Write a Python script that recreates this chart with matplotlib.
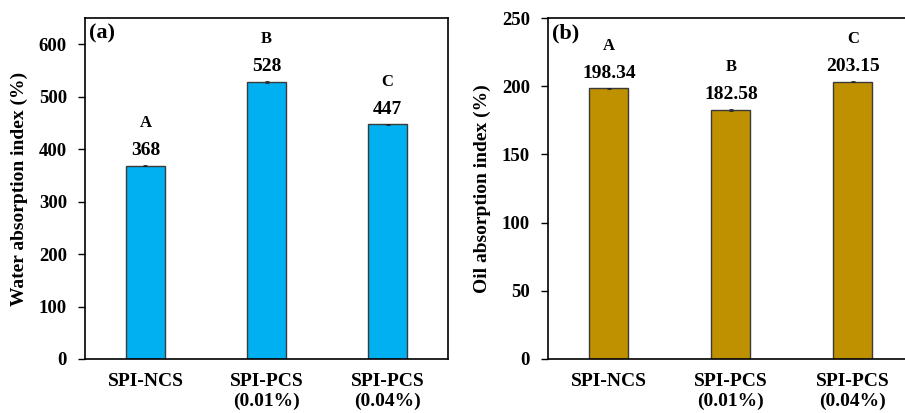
import numpy as np
import matplotlib.pyplot as plt

plt.rcParams['font.family'] = ['Liberation Serif', 'DejaVu Serif']
plt.rcParams['font.weight'] = 'bold'

samples = ['SPI-NCS', 'SPI-PCS\n(0.01%)', 'SPI-PCS\n(0.04%)']
letters = ['A', 'B', 'C']

wai = [368, 528, 447]
wai_err = [1.0, 1.0, 1.0]
oai = [198.34, 182.58, 203.15]
oai_err = [0.4, 0.4, 0.4]

fig = plt.figure(figsize=(9.05, 4.13), dpi=100)
ax1 = fig.add_axes([0.0939, 0.1308, 0.4012, 0.8256])
ax2 = fig.add_axes([0.6055, 0.1308, 0.4044, 0.8256])

x = np.arange(len(samples))


def bar_panel(ax, vals, errs, color, ymax, step, ylabel, tag, fmt):
    ax.bar(x, vals, width=0.32, color=color, edgecolor='#3a3a3a', linewidth=1.0, zorder=2)
    ax.errorbar(x, vals, yerr=errs, fmt='none', ecolor='#222222', elinewidth=0.6,
                capsize=1.5, capthick=0.6, zorder=3)
    for xi, v, lt in zip(x, vals, letters):
        ax.annotate(fmt.format(v), (xi, v), xytext=(0, 5), textcoords='offset points',
                    ha='center', va='bottom', fontsize=14, fontweight='bold')
        ax.annotate(lt, (xi, v), xytext=(0, 25), textcoords='offset points',
                    ha='center', va='bottom', fontsize=12, fontweight='bold')
    ax.set_xlim(-0.5, 2.5)
    ax.set_ylim(0, ymax)
    ax.set_yticks(np.arange(0, ymax + 1, step))
    ax.set_xticks(x)
    ax.set_xticklabels(samples, fontsize=14, fontweight='bold', linespacing=1.2)
    ax.tick_params(axis='x', length=0, pad=10)
    ax.tick_params(axis='y', direction='out', length=5, width=1, labelsize=13.5, pad=8)
    for lbl in ax.get_yticklabels():
        lbl.set_fontweight('bold')
    ax.set_ylabel(ylabel, fontsize=14, fontweight='bold', labelpad=8)
    for s in ax.spines.values():
        s.set_linewidth(1.2)
    ax.text(0.012, 0.985, tag, transform=ax.transAxes, ha='left', va='top',
            fontsize=16, fontweight='bold')


bar_panel(ax1, wai, wai_err, '#00B0F0', 650, 100, 'Water absorption index (%)', '(a)', '{:.0f}')
bar_panel(ax2, oai, oai_err, '#BF9000', 250, 50, 'Oil absorption index (%)', '(b)', '{:.2f}')

fig.savefig('out.png', dpi=100)
